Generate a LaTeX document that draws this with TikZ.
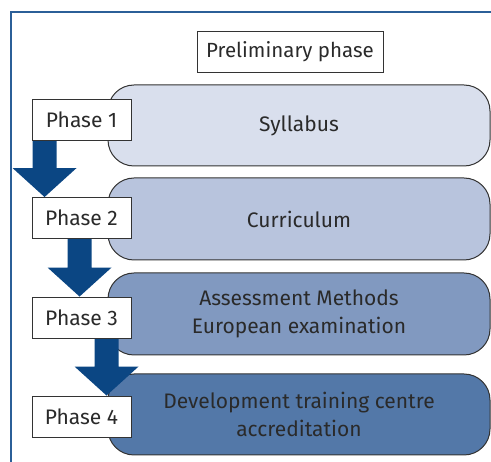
\documentclass[tikz,border=0pt]{standalone}
\usepackage{fontspec}
\setmainfont{Fira Sans}
\usetikzlibrary{calc}
\definecolor{framec}{HTML}{2B5F98}
\definecolor{arrowc}{HTML}{0B4683}
\definecolor{txt}{HTML}{2A2A2A}
\definecolor{edgec}{HTML}{333333}
\definecolor{fillA}{HTML}{D9DFED}
\definecolor{fillB}{HTML}{B8C4DD}
\definecolor{fillC}{HTML}{8199C0}
\definecolor{fillD}{HTML}{5378A8}
\tikzset{
  stage/.style={draw=edgec, line width=1pt, rounded corners=26pt, minimum width=382pt, inner sep=0pt, align=center, text=txt, font=\fontsize{21}{28}\selectfont},
  phasebox/.style={draw=edgec, line width=0.9pt, fill=white, minimum width=99pt, minimum height=41pt, inner sep=0pt, text=txt, font=\fontsize{21}{24}\selectfont},
}
\newcommand{\blkarrow}[3]{%
  \fill[arrowc] ($(#1.south west)+(#3-12,0)$) -- ($(#1.south west)+(#3+12,0)$)
    -- ($(#2.north west)+(#3+12,-29)$) -- ($(#2.north west)+(#3+32,-29)$)
    -- ($(#2.north west)+(#3,0)$) -- ($(#2.north west)+(#3-32,-29)$)
    -- ($(#2.north west)+(#3-12,-29)$) -- cycle;}
\begin{document}
\begin{tikzpicture}[x=1pt,y=-1pt]
\useasboundingbox (0,0) rectangle (491,462);
\draw[framec, line width=1.2pt] (11,470) -- (11,12) -- (495,12);
\node[draw=edgec, line width=0.9pt, minimum width=186pt, minimum height=41pt, inner sep=0pt, text=txt, font=\fontsize{20.5}{24}\selectfont] (pre) at (290,51.5) {Preliminary phase};
\node[stage, fill=fillA, minimum height=81pt] (s1) at (299,125.5) {Syllabus};
\node[stage, fill=fillB, minimum height=82pt] (s2) at (299,219) {Curriculum};
\node[stage, fill=fillC, minimum height=82pt] (s3) at (299,314) {Assessment Methods\\European examination};
\node[stage, fill=fillD, minimum height=81pt] (s4) at (299,414.5) {Development training centre\\accreditation};
\node[phasebox] (p1) at (81.5,119.5) {Phase 1};
\node[phasebox] (p2) at (81.5,218) {Phase 2};
\node[phasebox] (p3) at (81.5,317.5) {Phase 3};
\node[phasebox] (p4) at (81.5,416.5) {Phase 4};
\blkarrow{p1}{p2}{13}
\blkarrow{p2}{p3}{48}
\blkarrow{p3}{p4}{75}
\node[phasebox] at (p1) {Phase 1};
\node[phasebox] at (p2) {Phase 2};
\node[phasebox] at (p3) {Phase 3};
\node[phasebox] at (p4) {Phase 4};
\end{tikzpicture}
\end{document}
